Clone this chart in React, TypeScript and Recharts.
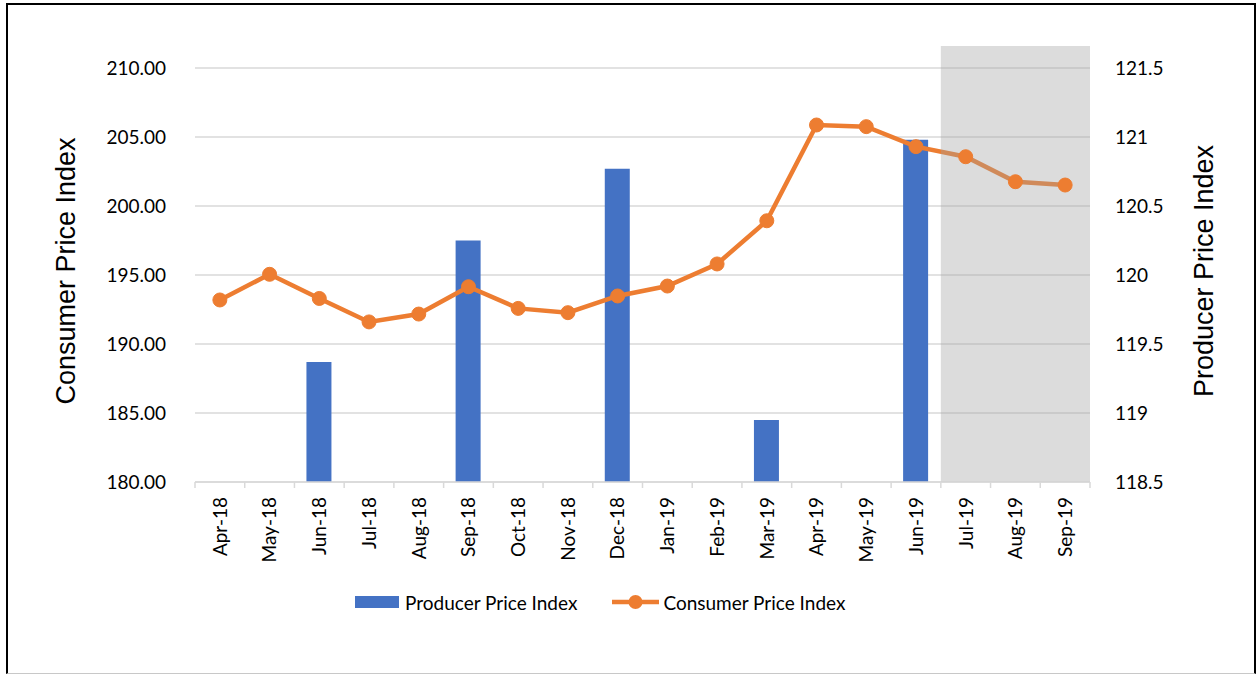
import React from "react";
import {
  ComposedChart,
  Bar,
  Line,
  XAxis,
  YAxis,
  CartesianGrid,
  Legend,
  ReferenceArea,
} from "recharts";

const months = [
  "Apr-18", "May-18", "Jun-18", "Jul-18", "Aug-18", "Sep-18",
  "Oct-18", "Nov-18", "Dec-18", "Jan-19", "Feb-19", "Mar-19",
  "Apr-19", "May-19", "Jun-19", "Jul-19", "Aug-19", "Sep-19",
];

// Consumer Price Index (left axis)
const cpi = [
  193.19, 195.05, 193.3, 191.6, 192.17, 194.15,
  192.58, 192.27, 193.48, 194.2, 195.8, 198.93,
  205.87, 205.75, 204.3, 203.57, 201.76, 201.52,
];

// Producer Price Index (right axis), quarterly only
const ppi = [
  null, null, 119.37, null, null, 120.25,
  null, null, 120.77, null, null, 118.95,
  null, null, 120.98, null, null, null,
];

const cpiTicks = [180, 185, 190, 195, 200, 205, 210];
const ppiTicks = [118.5, 119, 119.5, 120, 120.5, 121, 121.5];

const shadeFrom = "Jul-19";
const shadeTo = "Sep-19";

const FONT = "Lato, 'Open Sans', sans-serif";
const TITLE_FONT = "'Liberation Sans', Arial, sans-serif";
const BLUE = "#4472C4";
const ORANGE = "#ED7D31";
const GRID = "#D9D9D9";

const W = 1257;
const H = 675;
const PLOT_LEFT = 195;
const PLOT_RIGHT = 1090;
const BAND = (PLOT_RIGHT - PLOT_LEFT) / months.length;

const data = months.map((m, i) => ({ month: m, cpi: cpi[i], ppi: ppi[i] }));

const MonthTick = (props: any) => {
  const { x, y, payload, index } = props;
  const last = index === months.length - 1;
  return (
    <g>
      <line x1={x - BAND / 2} x2={x - BAND / 2} y1={y} y2={y + 6} stroke={GRID} strokeWidth={1.5} />
      {last && <line x1={x + BAND / 2} x2={x + BAND / 2} y1={y} y2={y + 6} stroke={GRID} strokeWidth={1.5} />}
      <g transform={`translate(${x},${y})`}>
        <text
          transform="rotate(-90)"
          x={-15}
          y={0}
          dy="0.36em"
          textAnchor="end"
          fill="#000"
          fontSize={19}
          fontFamily={FONT}
        >
          {payload.value}
        </text>
      </g>
    </g>
  );
};

const AxisTitle = (props: any) => {
  const { cx, text } = props;
  return (
    <text
      x={cx}
      y={271}
      transform={`rotate(-90, ${cx}, 271)`}
      textAnchor="middle"
      dominantBaseline="central"
      fontSize={27}
      fontFamily={TITLE_FONT}
      fill="#000"
    >
      {text}
    </text>
  );
};

const LegendBox = () => (
  <div
    style={{
      display: "flex",
      alignItems: "center",
      height: 24,
      fontFamily: FONT,
      fontSize: 19,
      color: "#000",
      whiteSpace: "nowrap",
    }}
  >
    <span style={{ display: "inline-block", width: 44, height: 12, background: BLUE, marginRight: 6 }} />
    <span>Producer Price Index</span>
    <svg width={47} height={16} style={{ marginLeft: 35, marginRight: 4 }}>
      <line x1={0} x2={47} y1={8} y2={8} stroke={ORANGE} strokeWidth={4.5} />
      <circle cx={23.5} cy={8} r={7} fill={ORANGE} />
    </svg>
    <span>Consumer Price Index</span>
  </div>
);

export default function App() {
  return (
    <div style={{ position: "absolute", left: 0, top: 0, width: W, height: H, background: "#fff" }}>
      <div
        style={{
          position: "absolute",
          left: 6,
          top: 3,
          width: 1250,
          height: 671,
          boxSizing: "border-box",
          borderTop: "2px solid #000",
          borderLeft: "2px solid #000",
          borderRight: "2px solid #000",
          borderBottom: "1px solid #c8c8c8",
        }}
      />
      <div style={{ position: "absolute", left: 0, top: 0 }}>
        <ComposedChart
          width={W}
          height={H}
          data={data}
          margin={{ top: 68, right: 40, bottom: 61, left: 40 }}
        >
          <CartesianGrid yAxisId="left" vertical={false} stroke={GRID} strokeWidth={1.5} />
          <XAxis
            dataKey="month"
            interval={0}
            height={108}
            axisLine={{ stroke: GRID, strokeWidth: 1.5 }}
            tickLine={false}
            tickSize={0}
            tickMargin={0}
            tick={<MonthTick />}
          />
          <YAxis
            yAxisId="left"
            orientation="left"
            width={PLOT_LEFT - 40}
            domain={[180, 210]}
            ticks={cpiTicks}
            interval={0}
            axisLine={false}
            tickLine={false}
            tickSize={0}
            tickMargin={29}
            tickFormatter={(v: number) => v.toFixed(2)}
            tick={{ fill: "#000", fontSize: 19, fontFamily: FONT }}
            label={<AxisTitle cx={66} text="Consumer Price Index" />}
          />
          <YAxis
            yAxisId="right"
            orientation="right"
            width={W - PLOT_RIGHT - 40}
            domain={[118.5, 121.5]}
            ticks={ppiTicks}
            interval={0}
            axisLine={false}
            tickLine={false}
            tickSize={0}
            tickMargin={25}
            tick={{ fill: "#000", fontSize: 19, fontFamily: FONT, textAnchor: "start" }}
            label={<AxisTitle cx={1204} text="Producer Price Index" />}
          />
          <Legend
            verticalAlign="bottom"
            content={() => <LegendBox />}
            wrapperStyle={{ left: 355, width: "auto", height: 24 }}
          />
          <Bar
            yAxisId="right"
            dataKey="ppi"
            name="Producer Price Index"
            fill={BLUE}
            barSize={25}
            isAnimationActive={false}
          />
          <Line
            yAxisId="left"
            dataKey="cpi"
            name="Consumer Price Index"
            stroke={ORANGE}
            strokeWidth={4.5}
            dot={{ r: 7, fill: ORANGE, stroke: ORANGE, strokeWidth: 1 }}
            activeDot={false}
            isAnimationActive={false}
          />
          <ReferenceArea
            yAxisId="left"
            x1={shadeFrom}
            x2={shadeTo}
            y1={180}
            y2={211.6}
            ifOverflow="visible"
            fill="#a0a0a0"
            fillOpacity={0.37}
            stroke="none"
            zIndex={450}
          />
        </ComposedChart>
      </div>
    </div>
  );
}
